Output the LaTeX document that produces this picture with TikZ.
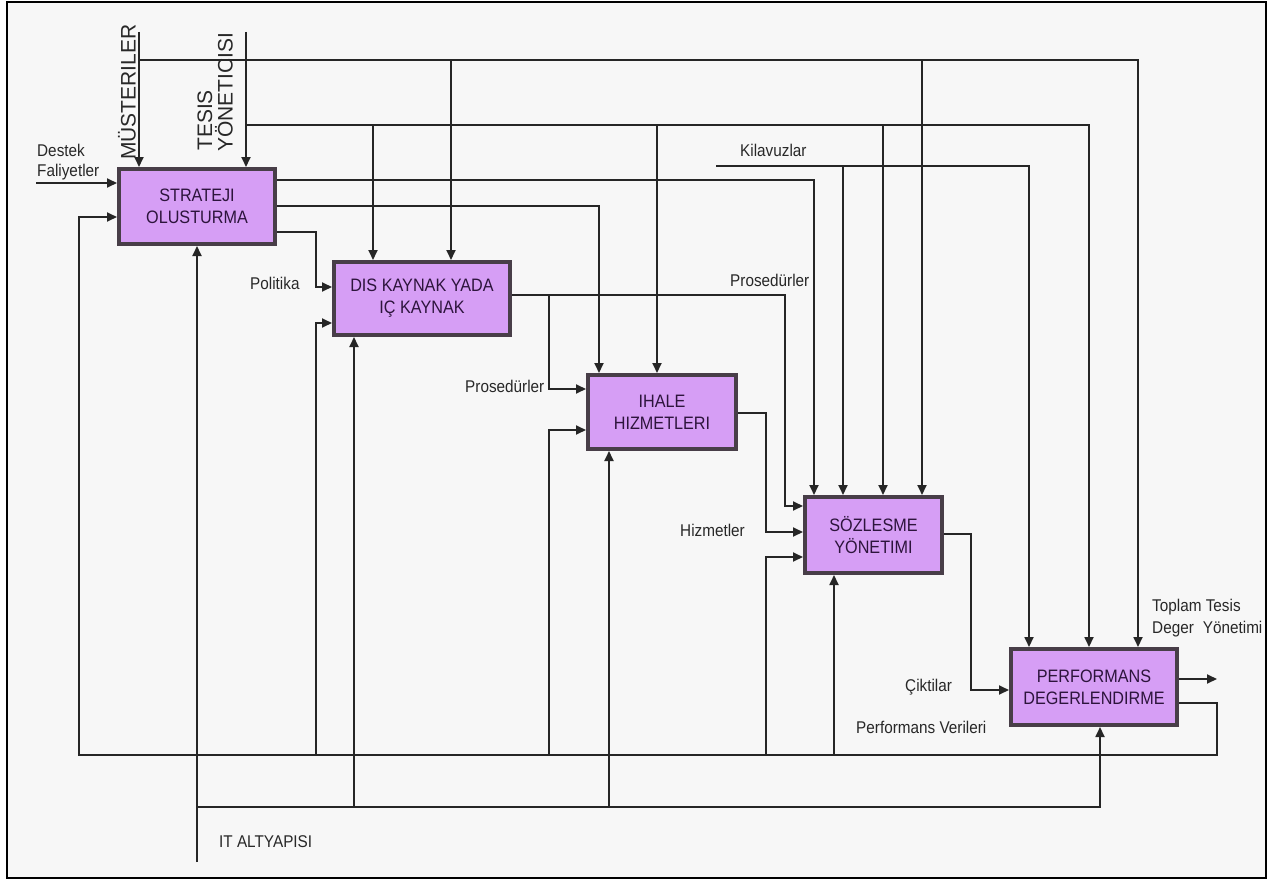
\documentclass[tikz,border=0pt]{standalone}
\usepackage{fontspec}
\usetikzlibrary{arrows.meta}
\newfontfamily\boxf[FakeStretch=0.9]{Liberation Sans}
\newfontfamily\labf[FakeStretch=0.9]{Liberation Sans}
\newfontfamily\rotf{Liberation Sans}
\definecolor{bgcol}{RGB}{247,247,247}
\definecolor{lncol}{RGB}{38,38,38}
\definecolor{boxfill}{RGB}{214,158,245}
\definecolor{boxline}{RGB}{72,62,72}
\definecolor{boxtext}{RGB}{45,20,60}
\definecolor{labtext}{RGB}{40,40,40}
\tikzset{
  box/.style={draw=boxline, line width=4pt, fill=boxfill, align=center,
    font={\boxf\fontsize{18}{22}\selectfont}, text=boxtext, inner sep=0pt},
  lbl/.style={font={\labf\fontsize{17}{20}\selectfont}, text=labtext, inner sep=0pt, anchor=west},
  rot/.style={font={\rotf\fontsize{21}{24}\selectfont}, text=labtext, inner sep=0pt, rotate=90, anchor=west},
  ln/.style={draw=lncol, line width=1.8pt},
  arr/.style={ln, -{Triangle[length=10pt,width=9pt]}}
}
\begin{document}
\begin{tikzpicture}[x=1pt,y=1pt]
\useasboundingbox (0,0) rectangle (1268,-880);
\fill[white] (0,0) rectangle (1268,-880);
\draw[line width=2pt, fill=bgcol] (7,-2) rectangle (1266,-878);

% boxes
\node[box, minimum width=156pt, minimum height=75pt] (S) at (197,-206.5) {STRATEJI\\OLUSTURMA};
\node[box, minimum width=176pt, minimum height=73pt] (D) at (422,-298.5) {DIS KAYNAK YADA\\IÇ KAYNAK};
\node[box, minimum width=148pt, minimum height=74pt] (I) at (662,-412) {IHALE\\HIZMETLERI};
\node[box, minimum width=137pt, minimum height=76pt] (Z) at (873.5,-535) {SÖZLESME\\YÖNETIMI};
\node[box, minimum width=166pt, minimum height=76pt] (P) at (1094,-687) {PERFORMANS\\DEGERLENDIRME};

% labels
\node[rot] (lm) at (127,-160) {MÜSTERILER};
\node[rot] (lt1) at (205,-151) {TESIS};
\node[rot] (lt2) at (224,-152) {YÖNETICISI};
\node[lbl] (ld1) at (37,-150) {Destek};
\node[lbl] (ld2) at (37,-172) {Faliyetler};
\node[lbl] (lpol) at (250,-283) {Politika};
\node[lbl] (lkil) at (740,-150) {Kilavuzlar};
\node[lbl] (lpr1) at (730,-280) {Prosedürler};
\node[lbl] (lpr2) at (465,-386) {Prosedürler};
\node[lbl] (lhiz) at (680,-530) {Hizmetler};
\node[lbl] (lcik) at (905,-687) {Çiktilar};
\node[lbl] (lpv) at (856,-727) {Performans Verileri};
\node[lbl] (lto1) at (1152,-607) {Toplam Tesis};
\node[lbl] (lto2) at (1152,-629) {Deger\hspace{9pt}Yönetimi};
\node[lbl] (lit) at (219,-842) {IT ALTYAPISI};

% free ends and corners
\coordinate (mt) at (139,-32);
\coordinate (mc) at (139,-60);
\coordinate (mr) at (1138,-60);
\coordinate (m1) at (451,-60);
\coordinate (m2) at (922,-60);
\coordinate (tt) at (246,-32);
\coordinate (tc) at (246,-125);
\coordinate (tr) at (1089,-125);
\coordinate (t1) at (373,-125);
\coordinate (t2) at (657,-125);
\coordinate (t3) at (883,-125);
\coordinate (kl) at (716,-166);
\coordinate (kr) at (1029,-166);
\coordinate (k1) at (843,-166);
\coordinate (s1) at (814,-180);
\coordinate (s2) at (599,-206);
\coordinate (s3) at (316,-232);
\coordinate (s3b) at (316,-287);
\coordinate (de) at (36,-183);
\coordinate (fr1) at (1217,-703);
\coordinate (fr2) at (1217,-755);
\coordinate (fl) at (79,-755);
\coordinate (fl2) at (79,-217);
\coordinate (f1) at (316,-755);
\coordinate (f1t) at (316,-323);
\coordinate (f2) at (549,-755);
\coordinate (f2t) at (549,-430);
\coordinate (f3) at (766,-755);
\coordinate (f3t) at (766,-557);
\coordinate (f4) at (834,-755);
\coordinate (ib) at (197,-862);
\coordinate (ic) at (197,-807);
\coordinate (ir) at (1100,-807);
\coordinate (i1) at (354,-807);
\coordinate (i2) at (609,-807);
\coordinate (d1) at (785,-295);
\coordinate (d1b) at (785,-506);
\coordinate (d2) at (549,-295);
\coordinate (d2b) at (549,-389);
\coordinate (e1) at (766,-413);
\coordinate (e1b) at (766,-532);
\coordinate (z1) at (971,-534);
\coordinate (z1b) at (971,-690);
\coordinate (po) at (1217,-679);

% MUSTERILER
\draw[arr] (mt) -- (mt |- S.north);
\draw[arr] (mc) -- (mr) -- (mr |- P.north);
\draw[arr] (m1) -- (m1 |- D.north);
\draw[arr] (m2) -- (m2 |- Z.north);
% TESIS YONETICISI
\draw[arr] (tt) -- (tt |- S.north);
\draw[arr] (tc) -- (tr) -- (tr |- P.north);
\draw[arr] (t1) -- (t1 |- D.north);
\draw[arr] (t2) -- (t2 |- I.north);
\draw[arr] (t3) -- (t3 |- Z.north);
% Kilavuzlar
\draw[arr] (kl) -- (kr) -- (kr |- P.north);
\draw[arr] (k1) -- (k1 |- Z.north);
% Strateji outputs
\draw[arr] (S.east |- s1) -- (s1) -- (s1 |- Z.north);
\draw[arr] (S.east |- s2) -- (s2) -- (s2 |- I.north);
\draw[arr] (S.east |- s3) -- (s3) -- (s3b) -- (D.west |- s3b);
% Destek
\draw[arr] (de) -- (S.west |- de);
% feedback
\draw[arr] (P.east |- fr1) -- (fr1) -- (fr2) -- (fl) -- (fl2) -- (S.west |- fl2);
\draw[arr] (f1) -- (f1t) -- (D.west |- f1t);
\draw[arr] (f2) -- (f2t) -- (I.west |- f2t);
\draw[arr] (f3) -- (f3t) -- (Z.west |- f3t);
\draw[arr] (f4) -- (f4 |- Z.south);
% IT
\draw[arr] (ib) -- (ib |- S.south);
\draw[arr] (ic) -- (ir) -- (ir |- P.south);
\draw[arr] (i1) -- (i1 |- D.south);
\draw[arr] (i2) -- (i2 |- I.south);
% Dis kaynak outputs
\draw[arr] (D.east |- d1) -- (d1) -- (d1b) -- (Z.west |- d1b);
\draw[arr] (d2) -- (d2b) -- (I.west |- d2b);
% Ihale output
\draw[arr] (I.east |- e1) -- (e1) -- (e1b) -- (Z.west |- e1b);
% Sozlesme output
\draw[arr] (Z.east |- z1) -- (z1) -- (z1b) -- (P.west |- z1b);
% Performans output
\draw[arr] (P.east |- po) -- (po);
\end{tikzpicture}
\end{document}
